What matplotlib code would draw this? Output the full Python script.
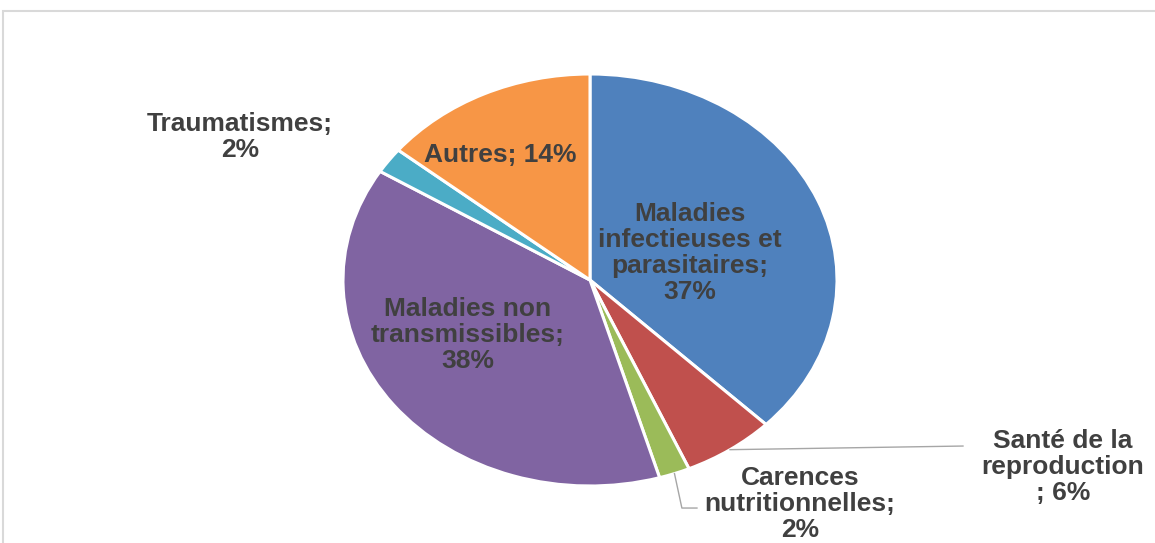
import matplotlib
matplotlib.use("Agg")
import matplotlib.pyplot as plt
from matplotlib.patches import Rectangle
import numpy as np

# donnees
categories = ['Maladies infectieuses et parasitaires', 'Santé de la reproduction',
              'Carences nutritionnelles', 'Maladies non transmissibles',
              'Traumatismes', 'Autres']
valeurs = [37, 6, 2, 38, 2, 14]
etiquettes = ['Maladies\ninfectieuses et\nparasitaires;\n37%',
              'Santé de la\nreproduction\n; 6%',
              'Carences\nnutritionnelles;\n2%',
              'Maladies non\ntransmissibles;\n38%',
              'Traumatismes;\n2%',
              'Autres; 14%']
couleurs = ['#4f81bd', '#c0504d', '#9bbb59', '#8064a2', '#4bacc6', '#f79646']

# position des etiquettes (coord. du camembert, rayon 1)
pos_etiq = [(0.405, 0.131), (1.915, -0.908), (0.850, -1.087),
            (-0.494, -0.267), (-1.417, 0.694), (-0.364, 0.607)]

plt.rcParams['font.family'] = ['Liberation Sans', 'DejaVu Sans']

fig = plt.figure(figsize=(11.55, 5.43), dpi=100)
fig.patches.append(Rectangle((3/1155, -0.1), 1.2, 0.1 + (543-11)/543, fill=False,
                             edgecolor='#d9d9d9', linewidth=1.5,
                             transform=fig.transFigure, figure=fig))

ax = fig.add_axes([343/1155, (543-486)/543, 494/1155, 412/543])
wedges, _ = ax.pie(valeurs, colors=couleurs, startangle=90, counterclock=False,
                   wedgeprops=dict(edgecolor='white', linewidth=2.2))
ax.set_aspect('auto')
ax.set_xlim(-1, 1)
ax.set_ylim(-1, 1)
ax.axis('off')

for i, txt in enumerate(etiquettes):
    ax.text(pos_etiq[i][0], pos_etiq[i][1], txt, ha='center', va='center',
            fontsize=19, fontweight='bold', color='#404040', linespacing=1.1,
            clip_on=False)

# traits de rappel
def milieu(w):
    a = np.deg2rad((w.theta1 + w.theta2) / 2)
    return np.cos(a), np.sin(a)

x0, y0 = milieu(wedges[1])
ax.plot([x0, 1.51], [y0, -0.806], color='#a6a6a6', lw=1, clip_on=False)
x0, y0 = milieu(wedges[2])
ax.plot([x0, 0.372, 0.433], [y0, -1.107, -1.107], color='#a6a6a6', lw=1, clip_on=False)

fig.savefig('out.png', dpi=100)
